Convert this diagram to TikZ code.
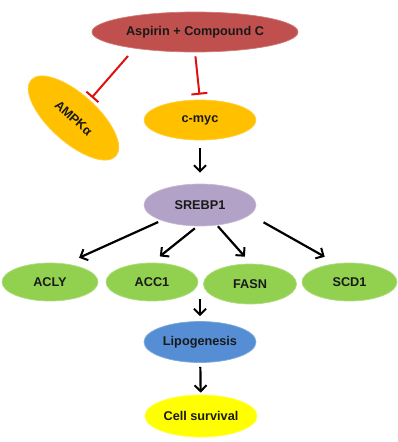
\documentclass[tikz,border=0pt]{standalone}
\usepackage{fontspec}
\setmainfont{Liberation Sans}
\usetikzlibrary{shapes.geometric, arrows.meta}
\definecolor{drugred}{HTML}{C0504D}
\definecolor{kinaseorange}{HTML}{FFC000}
\definecolor{srebplilac}{HTML}{B3A2C7}
\definecolor{enzymegreen}{HTML}{92D050}
\definecolor{lipoblue}{HTML}{558ED5}
\definecolor{survyellow}{HTML}{FFFF00}
\definecolor{inhred}{HTML}{E01010}

\begin{document}
\begin{tikzpicture}[x=1pt, y=-1pt,
  blob/.style={ellipse, inner sep=0pt, fill=#1, draw=#1!75!white, line width=0.7pt,
    minimum width=112pt, minimum height=41pt,
    font=\fontsize{12.7}{14}\selectfont\bfseries, text=black!90},
  act/.style={line width=2.2pt, -{Straight Barb[length=6pt, width=12pt, line width=2pt]}},
  inh/.style={line width=2pt, draw=inhred, -{Bar[width=16pt, line width=2pt]}}]
  \useasboundingbox (0,0) rectangle (398,442);

  % drug and first targets
  \node[blob=drugred, minimum width=206pt, minimum height=40pt] (asp) at (195,32) {Aspirin + Compound C};
  \node[blob=kinaseorange, rotate=-42, minimum width=114pt, minimum height=48pt] (ampk) at (73.5,118) {AMPKα};
  \node[blob=kinaseorange, minimum height=40pt] (myc) at (200,120) {c-myc};
  \coordinate (aspout) at (128,56);

  \draw[inh, shorten >=3pt] (aspout) -- (ampk.north);
  \draw[inh, shorten <=4pt, shorten >=5pt] (asp.south) -- (myc.north);

  % SREBP1 and its lipogenic genes
  \node[blob=srebplilac, minimum height=42pt] (srebp) at (200,205) {SREBP1};
  \node[blob=enzymegreen, minimum width=96pt, minimum height=38pt] (acly) at (50,282) {ACLY};
  \node[blob=enzymegreen, minimum width=92pt, minimum height=38pt] (acc) at (152,282) {ACC1};
  \node[blob=enzymegreen, minimum width=93pt, minimum height=40pt] (fasn) at (250,284) {FASN};
  \node[blob=enzymegreen, minimum width=95pt, minimum height=38pt] (scd) at (349.5,282) {SCD1};

  \draw[act, shorten <=8pt, shorten >=11pt] (myc) -- (srebp);
  \draw[act, shorten <=3.6pt, shorten >=14.5pt] (srebp.202) -- (acly.49);
  \draw[act, shorten <=3.2pt, shorten >=10pt] (srebp.263) -- (acc.90);
  \draw[act, shorten <=1.2pt, shorten >=9.3pt] (srebp.310) -- (fasn.87);
  \draw[act, shorten <=15.4pt, shorten >=13.5pt] (srebp.349) -- (scd.125);

  % downstream
  \node[blob=lipoblue] (lipo) at (200,342) {Lipogenesis};
  \node[blob=survyellow, minimum height=42pt] (cell) at (201,416) {Cell survival};
  \coordinate (rowout) at (200,299);

  \draw[act, shorten >=5pt] (rowout) -- (lipo);
  \draw[act, shorten <=4pt, shorten >=2pt] (lipo) -- (cell);
\end{tikzpicture}
\end{document}
